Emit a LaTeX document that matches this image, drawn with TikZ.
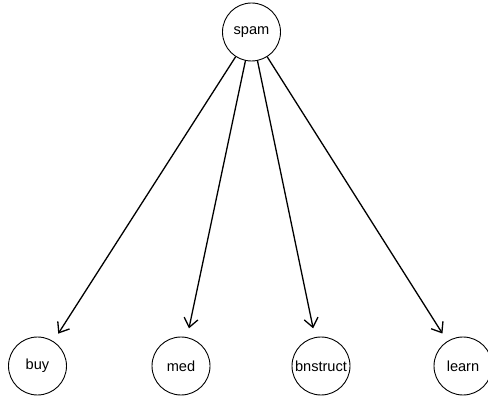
\documentclass[tikz,border=0pt]{standalone}
\usepackage{fontspec}
\setmainfont{Liberation Sans}
\usetikzlibrary{arrows.meta}
\begin{document}
\begin{tikzpicture}[x=1pt,y=-1pt,
  vnode/.style={circle,draw,line width=0.9pt,minimum size=58pt,inner sep=0pt,font=\fontsize{14.6}{16}\selectfont},
  edge/.style={line width=1.3pt,-{Straight Barb[length=9pt,width=14pt,line width=1.3pt]},shorten >=9pt}]
\useasboundingbox (0,0) rectangle (488,398);
\node[vnode] (spam) at (251.5,32) {spam};
\node[vnode] (buy) at (37.5,366) {buy};
\node[vnode] (med) at (181,366) {med};
\node[vnode] (bn) at (321,366) {bnstruct};
\node[vnode] (learn) at (463,366) {learn};
\foreach \t in {buy,med,bn,learn} \draw[edge] (spam) -- (\t);
\end{tikzpicture}
\end{document}
